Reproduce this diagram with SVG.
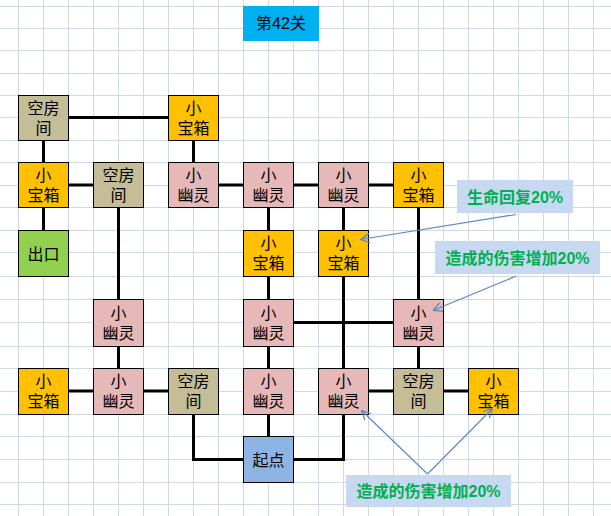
<svg xmlns="http://www.w3.org/2000/svg" width="611" height="516" viewBox="0 0 611 516">
<defs>
<style>
.grid line{stroke:#D0D7E5;stroke-width:1}
.conn path{fill:none;stroke:#000;stroke-width:3}
.node rect{stroke:#000;stroke-width:1}
.tan{fill:#C4BD97}.gold{fill:#FFC000}.pink{fill:#E6B8B7}.green{fill:#92D050}.blue{fill:#8DB4E2}
.t{font-family:"Liberation Sans","Noto Sans CJK SC",sans-serif;font-size:16px;fill:#000;text-anchor:middle}
.note rect{fill:#C6D9F1}
.nt{font-family:"Liberation Sans","Noto Sans CJK SC",sans-serif;font-size:16px;font-weight:bold;fill:#00B050;text-anchor:middle}
.arrows path{fill:none;stroke:#5A8AC6;stroke-width:1.2}
</style>
<marker id="ah" viewBox="0 0 10 10" refX="10" refY="5" markerWidth="10" markerHeight="10" markerUnits="userSpaceOnUse" orient="auto">
<path d="M1,0.5 L10,5 L1,9.5" fill="none" stroke="#5A8AC6" stroke-width="1.3"/>
</marker>
</defs>
<rect x="0" y="0" width="611" height="516" fill="#fff"/>
<g class="grid">
<line x1="18.5" y1="0" x2="18.5" y2="516"/><line x1="43.5" y1="0" x2="43.5" y2="516"/><line x1="68.5" y1="0" x2="68.5" y2="516"/><line x1="93.5" y1="0" x2="93.5" y2="516"/><line x1="118.5" y1="0" x2="118.5" y2="516"/><line x1="143.5" y1="0" x2="143.5" y2="516"/><line x1="168.5" y1="0" x2="168.5" y2="516"/><line x1="193.5" y1="0" x2="193.5" y2="516"/><line x1="218.5" y1="0" x2="218.5" y2="516"/><line x1="243.5" y1="0" x2="243.5" y2="516"/><line x1="268.5" y1="0" x2="268.5" y2="516"/><line x1="293.5" y1="0" x2="293.5" y2="516"/><line x1="318.5" y1="0" x2="318.5" y2="516"/><line x1="343.5" y1="0" x2="343.5" y2="516"/><line x1="368.5" y1="0" x2="368.5" y2="516"/><line x1="393.5" y1="0" x2="393.5" y2="516"/><line x1="418.5" y1="0" x2="418.5" y2="516"/><line x1="443.5" y1="0" x2="443.5" y2="516"/><line x1="468.5" y1="0" x2="468.5" y2="516"/><line x1="493.5" y1="0" x2="493.5" y2="516"/><line x1="518.5" y1="0" x2="518.5" y2="516"/><line x1="543.5" y1="0" x2="543.5" y2="516"/><line x1="568.5" y1="0" x2="568.5" y2="516"/><line x1="593.5" y1="0" x2="593.5" y2="516"/>
<line x1="0" y1="6.5" x2="611" y2="6.5"/><line x1="0" y1="28.5" x2="611" y2="28.5"/><line x1="0" y1="50.5" x2="611" y2="50.5"/><line x1="0" y1="73.5" x2="611" y2="73.5"/><line x1="0" y1="95.5" x2="611" y2="95.5"/><line x1="0" y1="117.5" x2="611" y2="117.5"/><line x1="0" y1="140.5" x2="611" y2="140.5"/><line x1="0" y1="162.5" x2="611" y2="162.5"/><line x1="0" y1="185.5" x2="611" y2="185.5"/><line x1="0" y1="207.5" x2="611" y2="207.5"/><line x1="0" y1="230.5" x2="611" y2="230.5"/><line x1="0" y1="252.5" x2="611" y2="252.5"/><line x1="0" y1="276.5" x2="611" y2="276.5"/><line x1="0" y1="299.5" x2="611" y2="299.5"/><line x1="0" y1="322.5" x2="611" y2="322.5"/><line x1="0" y1="346.5" x2="611" y2="346.5"/><line x1="0" y1="368.5" x2="611" y2="368.5"/><line x1="0" y1="391.5" x2="611" y2="391.5"/><line x1="0" y1="414.5" x2="611" y2="414.5"/><line x1="0" y1="436.5" x2="611" y2="436.5"/><line x1="0" y1="459.5" x2="611" y2="459.5"/><line x1="0" y1="482.5" x2="611" y2="482.5"/><line x1="0" y1="504.5" x2="611" y2="504.5"/>
</g>
<g id="title">
<rect x="243" y="6" width="76" height="35" fill="#00B0F0"/>
<text class="t" x="281" y="29">第42关</text>
</g>
<g class="conn" id="connectors">
<path d="M68,117.5 H168"/>
<path d="M43.5,140 V162"/>
<path d="M193.5,140 V162"/>
<path d="M68,185 H93"/>
<path d="M218,185 H243"/><path d="M293,185 H318"/><path d="M368,185 H393"/>
<path d="M43.5,208 V230"/>
<path d="M118.5,208 V299"/>
<path d="M268.5,208 V230"/><path d="M268.5,276 V299"/><path d="M268.5,346 V368"/><path d="M268.5,414 V436"/>
<path d="M343.5,208 V230"/><path d="M343.5,276 V368"/>
<path d="M418.5,208 V299"/><path d="M418.5,346 V368"/>
<path d="M293,322.5 H393"/>
<path d="M118.5,346 V368"/>
<path d="M68,391 H93"/><path d="M143,391 H168"/>
<path d="M368,391 H393"/><path d="M443,391 H468"/>
<path d="M193.5,414 V459.5 H243"/>
<path d="M293,459.5 H343.5 V414"/>
</g>
<g class="node" id="n1"><rect class="tan" x="18.5" y="95.5" width="50" height="45"/><text class="t" x="43.5" y="113.5">空房</text><text class="t" x="43.5" y="133.5">间</text></g>
<g class="node" id="n2"><rect class="gold" x="168.5" y="95.5" width="50" height="45"/><text class="t" x="193.5" y="113.5">小</text><text class="t" x="193.5" y="133.5">宝箱</text></g>
<g class="node" id="n3"><rect class="gold" x="18.5" y="162.5" width="50" height="45"/><text class="t" x="43.5" y="181">小</text><text class="t" x="43.5" y="201">宝箱</text></g>
<g class="node" id="n4"><rect class="tan" x="93.5" y="162.5" width="50" height="45"/><text class="t" x="118.5" y="181">空房</text><text class="t" x="118.5" y="201">间</text></g>
<g class="node" id="n5"><rect class="pink" x="168.5" y="162.5" width="50" height="45"/><text class="t" x="193.5" y="181">小</text><text class="t" x="193.5" y="201">幽灵</text></g>
<g class="node" id="n6"><rect class="pink" x="243.5" y="162.5" width="50" height="45"/><text class="t" x="268.5" y="181">小</text><text class="t" x="268.5" y="201">幽灵</text></g>
<g class="node" id="n7"><rect class="pink" x="318.5" y="162.5" width="50" height="45"/><text class="t" x="343.5" y="181">小</text><text class="t" x="343.5" y="201">幽灵</text></g>
<g class="node" id="n8"><rect class="gold" x="393.5" y="162.5" width="50" height="45"/><text class="t" x="418.5" y="181">小</text><text class="t" x="418.5" y="201">宝箱</text></g>
<g class="node" id="n9"><rect class="green" x="18.5" y="230.5" width="50" height="46"/><text class="t" x="43.5" y="259.5">出口</text></g>
<g class="node" id="n10"><rect class="gold" x="243.5" y="230.5" width="50" height="46"/><text class="t" x="268.5" y="249">小</text><text class="t" x="268.5" y="269">宝箱</text></g>
<g class="node" id="n11"><rect class="gold" x="318.5" y="230.5" width="50" height="46"/><text class="t" x="343.5" y="249">小</text><text class="t" x="343.5" y="269">宝箱</text></g>
<g class="node" id="n12"><rect class="pink" x="93.5" y="299.5" width="50" height="47"/><text class="t" x="118.5" y="318.5">小</text><text class="t" x="118.5" y="338.5">幽灵</text></g>
<g class="node" id="n13"><rect class="pink" x="243.5" y="299.5" width="50" height="47"/><text class="t" x="268.5" y="318.5">小</text><text class="t" x="268.5" y="338.5">幽灵</text></g>
<g class="node" id="n14"><rect class="pink" x="393.5" y="299.5" width="50" height="47"/><text class="t" x="418.5" y="318.5">小</text><text class="t" x="418.5" y="338.5">幽灵</text></g>
<g class="node" id="n15"><rect class="gold" x="18.5" y="368.5" width="50" height="46"/><text class="t" x="43.5" y="387">小</text><text class="t" x="43.5" y="407">宝箱</text></g>
<g class="node" id="n16"><rect class="pink" x="93.5" y="368.5" width="50" height="46"/><text class="t" x="118.5" y="387">小</text><text class="t" x="118.5" y="407">幽灵</text></g>
<g class="node" id="n17"><rect class="tan" x="168.5" y="368.5" width="50" height="46"/><text class="t" x="193.5" y="387">空房</text><text class="t" x="193.5" y="407">间</text></g>
<g class="node" id="n18"><rect class="pink" x="243.5" y="368.5" width="50" height="46"/><text class="t" x="268.5" y="387">小</text><text class="t" x="268.5" y="407">幽灵</text></g>
<g class="node" id="n19"><rect class="pink" x="318.5" y="368.5" width="50" height="46"/><text class="t" x="343.5" y="387">小</text><text class="t" x="343.5" y="407">幽灵</text></g>
<g class="node" id="n20"><rect class="tan" x="393.5" y="368.5" width="50" height="46"/><text class="t" x="418.5" y="387">空房</text><text class="t" x="418.5" y="407">间</text></g>
<g class="node" id="n21"><rect class="gold" x="468.5" y="368.5" width="50" height="46"/><text class="t" x="493.5" y="387">小</text><text class="t" x="493.5" y="407">宝箱</text></g>
<g class="node" id="n22"><rect class="blue" x="243.5" y="436.5" width="50" height="46"/><text class="t" x="268.5" y="465.5">起点</text></g>
<g class="note" id="note1"><rect x="457" y="180" width="116" height="33"/><text class="nt" x="515" y="202.5">生命回复20%</text></g>
<g class="note" id="note2"><rect x="435" y="241" width="165" height="33"/><text class="nt" x="517.5" y="263.5">造成的伤害增加20%</text></g>
<g class="note" id="note3"><rect x="346" y="475" width="165" height="32"/><text class="nt" x="428.5" y="496.5">造成的伤害增加20%</text></g>
<g class="arrows" id="callout-arrows">
<path d="M516,214.5 L360.5,239.5" marker-end="url(#ah)"/>
<path d="M516.5,276 L433,310.5" marker-end="url(#ah)"/>
<path d="M427.5,474 L361.5,410.5" marker-end="url(#ah)"/>
<path d="M427.5,474 L492.5,408.5" marker-end="url(#ah)"/>
</g>
</svg>
